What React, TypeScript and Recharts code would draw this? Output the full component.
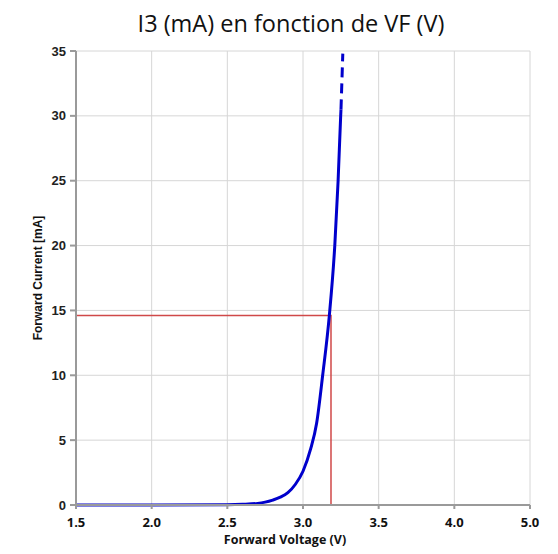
import React from "react";
import { LineChart, Line, XAxis, YAxis, CartesianGrid } from "recharts";

// forward voltage (V) vs forward current (mA)
const voltage = [1.5, 2.0, 2.5, 2.6, 2.7, 2.75, 2.8, 2.85, 2.9, 2.95, 3.0, 3.05, 3.09, 3.13, 3.174, 3.21, 3.232, 3.249, 3.251];
const current = [0, 0, 0.02, 0.05, 0.12, 0.22, 0.38, 0.6, 0.95, 1.6, 2.6, 4.3, 6.3, 10, 14.6, 20, 25, 30, 30.5];

// extrapolated (dashed) part
const dashVoltage = [3.251, 3.263];
const dashCurrent = [30.5, 34.8];

// operating point marker
const opVoltage = [1.5, 3.185, 3.185];
const opCurrent = [14.6, 14.6, 0];

const xTicks = [1.5, 2.0, 2.5, 3.0, 3.5, 4.0, 4.5];
const xTickLabels = ["1.5", "2.0", "2.5", "3.0", "3.5", "4.0", "5.0"];
const yTicks = [0, 5, 10, 15, 20, 25, 30, 35];

const curve = voltage.map((v, i) => ({ v, i: current[i] }));
const dashed = dashVoltage.map((v, i) => ({ v, i: dashCurrent[i] }));
const opPoint = opVoltage.map((v, i) => ({ v, i: opCurrent[i] }));

const XTick = ({ x, y, payload }: any) => (
  <text
    x={x}
    y={y + 9}
    textAnchor="middle"
    dominantBaseline="central"
    fill="#111"
    fontFamily="'Open Sans', sans-serif"
    fontWeight="bold"
    fontSize={13}
  >
    {xTickLabels[xTicks.indexOf(payload.value)] ?? ""}
  </text>
);

export default function App() {
  return (
    <div style={{ position: "absolute", left: 0, top: 0, width: 558, height: 554, background: "#fff" }}>
      <div
        style={{
          position: "absolute",
          top: 7,
          left: 0,
          width: 582,
          textAlign: "center",
          fontFamily: "'Open Sans', sans-serif",
          fontSize: 23.5,
          lineHeight: "32px",
          color: "#111",
          whiteSpace: "nowrap",
        }}
      >
        I3 (mA) en fonction de VF (V)
      </div>
      <LineChart
        width={558}
        height={554}
        margin={{ top: 51, right: 28, left: 16, bottom: 19 }}
      >
        <CartesianGrid stroke="#d6d6d6" strokeWidth={1} />
        <XAxis
          dataKey="v"
          type="number"
          domain={[1.5, 4.5]}
          ticks={xTicks}
          height={30}
          tickSize={4}
          tickMargin={4}
          stroke="#9a9a9a"
          strokeWidth={2}
          tick={<XTick />}
          allowDataOverflow
          label={{
            value: "Forward Voltage (V)",
            position: "bottom",
            offset: 0,
            dx: -18,
            style: { fill: "#111", fontFamily: "'Open Sans', sans-serif", fontWeight: 700, fontSize: 12.5 },
          }}
        />
        <YAxis
          dataKey="i"
          type="number"
          domain={[0, 35]}
          ticks={yTicks}
          width={60}
          tickSize={6}
          tickMargin={4}
          stroke="#9a9a9a"
          strokeWidth={2}
          tick={{ fill: "#222", fontFamily: "'Liberation Sans', Arial, sans-serif", fontWeight: 700, fontSize: 13 }}
          label={{
            value: "Forward Current [mA]",
            content: ({ viewBox }: any) => {
              const cx = viewBox.x + 22;
              const cy = viewBox.y + viewBox.height / 2;
              return (
                <text
                  x={cx}
                  y={cy}
                  transform={`rotate(-90 ${cx} ${cy})`}
                  textAnchor="middle"
                  dominantBaseline="central"
                  fill="#111"
                  fontFamily="'Liberation Sans', Arial, sans-serif"
                  fontWeight={700}
                  fontSize={12}
                >
                  Forward Current [mA]
                </text>
              );
            },
          }}
        />
        <Line
          data={opPoint}
          dataKey="i"
          type="linear"
          stroke="#d04848"
          strokeWidth={1.5}
          dot={false}
          isAnimationActive={false}
        />
        <Line
          data={curve}
          dataKey="i"
          type="monotone"
          stroke="#0000cc"
          strokeWidth={3}
          dot={false}
          isAnimationActive={false}
        />
        <Line
          data={dashed}
          dataKey="i"
          type="linear"
          stroke="#0000cc"
          strokeWidth={3}
          strokeDasharray="10 6"
          dot={false}
          isAnimationActive={false}
        />
      </LineChart>
    </div>
  );
}
